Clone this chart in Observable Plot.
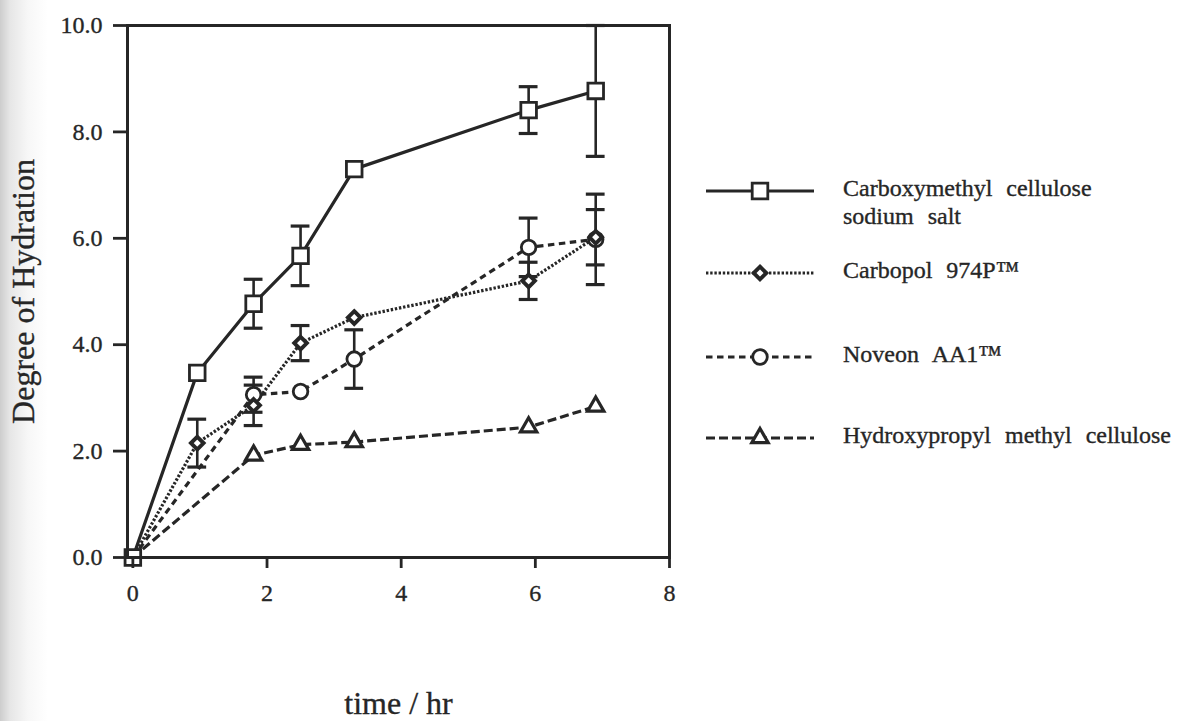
<!DOCTYPE html>
<html>
<head>
<meta charset="utf-8">
<script src="https://cdn.jsdelivr.net/npm/d3@7"></script>
<script src="https://cdn.jsdelivr.net/npm/@observablehq/plot@0.6"></script>
<style>
  html, body { margin: 0; padding: 0; }
  body { width: 1177px; height: 721px; overflow: hidden; background: #fff; }
  #wrap { position: relative; width: 1177px; height: 721px;
          background: linear-gradient(to right, #cdcdcd 0px, #e6e6e6 10px, #f7f7f7 28px, #ffffff 48px); }
  #chart { position: absolute; left: 0; top: 0; }
  #legend { position: absolute; left: 0; top: 0; pointer-events: none; }
  svg text { stroke: #262626; stroke-width: 0.35px; }
</style>
</head>
<body>
<div id="wrap">
  <div id="chart"></div>
  <svg id="legend" width="1177" height="721"></svg>
</div>
<script>
// ---------- data ----------
const seriesNames = ["Carboxymethyl cellulose sodium salt", "Carbopol 974P™", "Noveon AA1™", "Hydroxypropyl methyl cellulose"];
const legendLabels = [["Carboxymethyl cellulose", "sodium salt"], ["Carbopol 974P™"], ["Noveon AA1™"], ["Hydroxypropyl methyl cellulose"]];

const cmcTimes  = [0, 0.96, 1.8, 2.5, 3.3, 5.9, 6.9];
const cmcValues = [0, 3.47, 4.77, 5.67, 7.30, 8.41, 8.77];
const cmcErrors = [0, 0, 0.46, 0.56, 0, 0.44, 1.23];

const carbopolTimes  = [0, 0.96, 1.8, 2.5, 3.3, 5.9, 6.9];
const carbopolValues = [0, 2.15, 2.86, 4.03, 4.51, 5.20, 6.02];
const carbopolErrors = [0, 0.45, 0.38, 0.33, 0, 0.35, 0.52];

const noveonTimes  = [0, 1.8, 2.5, 3.3, 5.9, 6.9];
const noveonValues = [0, 3.06, 3.12, 3.73, 5.83, 5.98];
const noveonErrors = [0, 0.33, 0, 0.55, 0.55, 0.85];

const hpmcTimes  = [0, 1.8, 2.5, 3.3, 5.9, 6.9];
const hpmcValues = [0, 1.92, 2.12, 2.17, 2.45, 2.84];
const hpmcErrors = [0, 0, 0, 0, 0, 0];

const xTicks = [0, 2, 4, 6, 8];
const yTicks = [0, 2, 4, 6, 8, 10];
const xTitle = "time / hr";
const yTitle = "Degree of Hydration";

// ---------- styles ----------
const ink = "#262626";
const font = "'Liberation Serif', 'Times New Roman', serif";
const styles = [
  {symbol: "square",    d3symbol: d3.symbolSquare,    r: 8.8, markerWidth: 2.8, dash: null,       originMarker: true},
  {symbol: "diamond2",  d3symbol: d3.symbolDiamond2,  r: 5.7, markerWidth: 3.9, dash: "2.4,1.8", originMarker: false},
  {symbol: "circle",    d3symbol: d3.symbolCircle,    r: 7.3, markerWidth: 2.8, dash: "6.5,4.5", originMarker: false},
  {symbol: "triangle2", d3symbol: d3.symbolTriangle2, r: 7.8, markerWidth: 3.2, dash: "9,4",     originMarker: false}
];
const lineWidth = 3.2;
const capHalf = 0.14; // half-width of error-bar caps, in x units

const series = [
  {name: seriesNames[0], times: cmcTimes, values: cmcValues, errors: cmcErrors},
  {name: seriesNames[1], times: carbopolTimes, values: carbopolValues, errors: carbopolErrors},
  {name: seriesNames[2], times: noveonTimes, values: noveonValues, errors: noveonErrors},
  {name: seriesNames[3], times: hpmcTimes, values: hpmcValues, errors: hpmcErrors}
].map(s => ({...s, rows: s.times.map((t, j) => ({t, v: s.values[j], e: s.errors[j]}))}));

// ---------- chart ----------
const marks = [];
series.forEach(s => {
  const err = s.rows.filter(d => d.e > 0);
  marks.push(Plot.ruleX(err, {x: "t", y1: d => d.v - d.e, y2: d => d.v + d.e, stroke: ink, strokeWidth: 2.6}));
  marks.push(Plot.ruleY(err, {x1: d => d.t - capHalf, x2: d => d.t + capHalf, y: d => d.v + d.e, stroke: ink, strokeWidth: 3.2}));
  marks.push(Plot.ruleY(err, {x1: d => d.t - capHalf, x2: d => d.t + capHalf, y: d => d.v - d.e, stroke: ink, strokeWidth: 3.2}));
});
series.forEach((s, i) => {
  const st = styles[i];
  marks.push(Plot.line(s.rows, {x: "t", y: "v", stroke: ink, strokeWidth: lineWidth,
    strokeDasharray: st.dash, strokeLinecap: "butt", strokeLinejoin: "round"}));
});
for (let i = series.length - 1; i >= 0; i--) {
  const st = styles[i], s = series[i];
  const rows = st.originMarker ? s.rows : s.rows.filter(d => d.t > 0);
  marks.push(Plot.dot(rows, {x: "t", y: "v", symbol: st.symbol, r: st.r, fill: "white", stroke: ink, strokeWidth: st.markerWidth}));
}
marks.push(Plot.frame({stroke: ink, strokeWidth: 3}));
marks.push(Plot.axisY({ticks: yTicks, tickFormat: d3.format(".1f"), tickSize: 14, tickPadding: 11, strokeWidth: 2.8, label: null, fontSize: 24}));
marks.push(Plot.axisX({ticks: xTicks, tickFormat: d3.format("d"), tickSize: 11, tickPadding: 15, strokeWidth: 2.8, label: null, fontSize: 24}));
marks.push(Plot.text([xTitle], {text: d => d, frameAnchor: "bottom", textAnchor: "middle", lineAnchor: "middle", dy: 146, fontSize: 32, fill: ink}));
marks.push(Plot.text([yTitle], {text: d => d, frameAnchor: "left", textAnchor: "middle", lineAnchor: "middle", rotate: -90, dx: -104, fontSize: 32, fill: ink}));

const chart = Plot.plot({
  width: 700,
  height: 721,
  marginLeft: 127,
  marginRight: 31,
  marginTop: 25,
  marginBottom: 164,
  x: {domain: [-0.08, 8]},
  y: {domain: [0, 10]},
  style: {fontFamily: font, fontSize: "24px", color: ink, background: "transparent", overflow: "visible"},
  marks
});
document.getElementById("chart").append(chart);

// ---------- legend ----------
const leg = d3.select("#legend");
const rowY = [191, 273, 357, 438];
legendLabels.forEach((lines, i) => {
  const st = styles[i];
  const g = leg.append("g").attr("transform", `translate(0,${rowY[i]})`);
  g.append("line").attr("x1", 706).attr("x2", 814).attr("y1", 0).attr("y2", 0)
    .attr("stroke", ink).attr("stroke-width", lineWidth)
    .attr("stroke-dasharray", st.dash).attr("stroke-linecap", "butt");
  g.append("path").attr("transform", "translate(760,0)")
    .attr("d", d3.symbol(st.d3symbol, Math.PI * st.r * st.r)())
    .attr("fill", "white").attr("stroke", ink).attr("stroke-width", st.markerWidth);
  lines.forEach((txt, k) => {
    g.append("text").attr("x", 843).attr("y", 5 + k * 28)
      .attr("font-family", font).attr("font-size", 24).attr("word-spacing", 8)
      .attr("fill", ink).text(txt);
  });
});
</script>
</body>
</html>
